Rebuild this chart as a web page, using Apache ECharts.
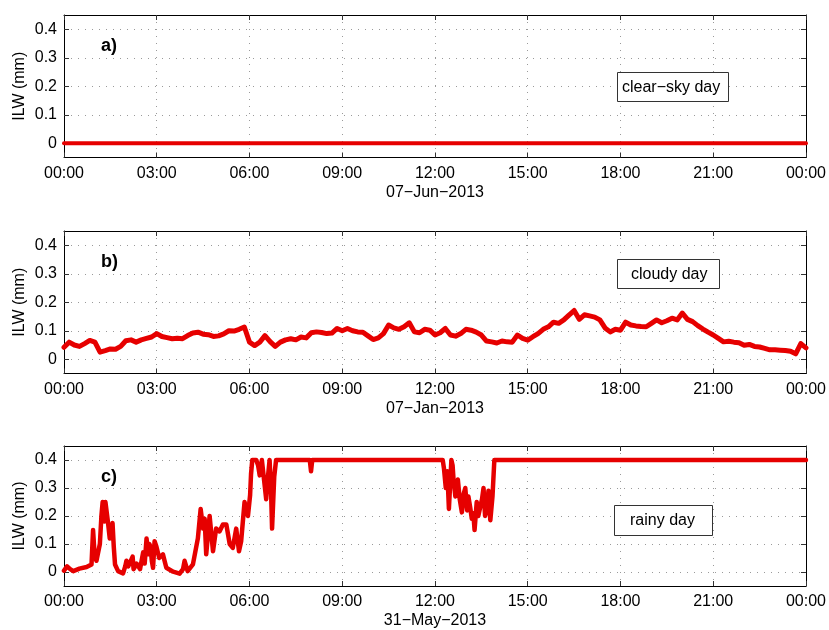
<!DOCTYPE html>
<html>
<head>
<meta charset="utf-8">
<script src="https://cdn.jsdelivr.net/npm/echarts@6/dist/echarts.min.js"></script>
<style>
  html, body { margin: 0; padding: 0; background: #fff; }
  #chart { width: 829px; height: 630px; }
</style>
</head>
<body>
<div id="chart"></div>
<script>
// hours of the day on the x axis
const hourTicks = [0, 3, 6, 9, 12, 15, 18, 21, 24];
const ilwTicks = [0, 0.1, 0.2, 0.3, 0.4];
const dates = ['07−Jun−2013', '07−Jan−2013', '31−May−2013'];
const dayLabels = ['clear−sky day', 'cloudy day', 'rainy day'];
const panelLabels = ['a)', 'b)', 'c)'];

// a) clear-sky day, hourly values
const clearValues = [0, 0, 0, 0, 0, 0, 0, 0, 0, 0, 0, 0, 0, 0, 0, 0, 0, 0, 0, 0, 0, 0, 0, 0, 0];

// b) cloudy day, one value every 10 minutes
const cloudyValues = [
  0.042, 0.060, 0.050, 0.045, 0.055, 0.066,
  0.060, 0.025, 0.030, 0.036, 0.035, 0.045,
  0.065, 0.068, 0.060, 0.068, 0.073, 0.078,
  0.090, 0.080, 0.076, 0.072, 0.074, 0.072,
  0.083, 0.092, 0.095, 0.088, 0.086, 0.080,
  0.082, 0.089, 0.100, 0.099, 0.105, 0.113,
  0.060, 0.048, 0.060, 0.083, 0.062, 0.045,
  0.060, 0.068, 0.072, 0.068, 0.078, 0.075,
  0.093, 0.096, 0.094, 0.090, 0.092, 0.108,
  0.100, 0.108, 0.100, 0.096, 0.095, 0.082,
  0.069, 0.075, 0.090, 0.120, 0.110, 0.105,
  0.114, 0.128, 0.096, 0.093, 0.105, 0.102,
  0.085, 0.093, 0.108, 0.085, 0.081, 0.090,
  0.105, 0.102, 0.095, 0.085, 0.064, 0.061,
  0.057, 0.064, 0.061, 0.060, 0.085, 0.073,
  0.067, 0.079, 0.090, 0.105, 0.114, 0.130,
  0.126, 0.138, 0.155, 0.171, 0.140, 0.156,
  0.152, 0.148, 0.138, 0.110, 0.096, 0.105,
  0.102, 0.130, 0.120, 0.117, 0.115, 0.114,
  0.126, 0.138, 0.128, 0.135, 0.144, 0.138,
  0.162, 0.140, 0.132, 0.118, 0.106, 0.095,
  0.085, 0.073, 0.061, 0.063, 0.060, 0.058,
  0.049, 0.052, 0.045, 0.043, 0.038, 0.033,
  0.033, 0.032, 0.031, 0.028, 0.019, 0.055,
  0.040
];

// c) rainy day, irregular samples (hour, value)
const rainyHours = [
  0.00, 0.10, 0.20, 0.30, 0.50, 0.73, 0.89, 0.94, 0.99, 1.05,
  1.16, 1.21, 1.25, 1.30, 1.34, 1.38, 1.43, 1.48, 1.53, 1.57,
  1.61, 1.65, 1.75, 1.91, 1.98, 2.02, 2.08, 2.13, 2.22, 2.25,
  2.29, 2.35, 2.40, 2.46, 2.50, 2.56, 2.61, 2.67, 2.72, 2.76,
  2.80, 2.84, 2.88, 2.93, 2.99, 3.08, 3.20, 3.31, 3.53, 3.74,
  3.85, 3.90, 4.00, 4.17, 4.33, 4.42, 4.50, 4.55, 4.60, 4.71,
  4.82, 4.92, 5.03, 5.14, 5.25, 5.36, 5.46, 5.57, 5.66, 5.73,
  5.84, 5.95, 6.02, 6.05, 6.09, 6.22, 6.28, 6.33, 6.40, 6.43,
  6.54, 6.58, 6.65, 6.70, 6.73, 6.80, 6.86, 7.95, 7.99, 8.03,
  12.25, 12.29, 12.35, 12.40, 12.45, 12.53, 12.57, 12.60, 12.66, 12.74,
  12.80, 12.87, 12.93, 12.98, 13.04, 13.08, 13.14, 13.19, 13.24, 13.28,
  13.35, 13.40, 13.46, 13.52, 13.57, 13.62, 13.68, 13.73, 13.79, 13.86,
  13.92, 24.00
];
const rainyValues = [
  0.005, 0.020, 0.010, 0.003, 0.012, 0.018, 0.027, 0.150, 0.060, 0.040,
  0.100, 0.200, 0.250, 0.180, 0.250, 0.250, 0.170, 0.120, 0.140, 0.175,
  0.090, 0.027, 0.003, -0.005, 0.020, 0.040, 0.020, 0.027, 0.055, 0.010,
  0.010, 0.030, 0.027, 0.010, 0.003, 0.070, 0.030, 0.120, 0.063, 0.100,
  0.090, 0.040, 0.015, 0.110, 0.090, 0.050, 0.063, 0.015, 0.001, -0.006,
  0.010, 0.040, 0.003, 0.027, 0.120, 0.225, 0.155, 0.190, 0.063, 0.200,
  0.074, 0.155, 0.145, 0.170, 0.170, 0.100, 0.086, 0.155, 0.074, 0.110,
  0.250, 0.200, 0.275, 0.350, 0.400, 0.400, 0.380, 0.345, 0.400, 0.400,
  0.260, 0.320, 0.400, 0.280, 0.155, 0.340, 0.400, 0.400, 0.360, 0.400,
  0.400, 0.370, 0.300, 0.360, 0.225, 0.400, 0.380, 0.330, 0.270, 0.330,
  0.260, 0.213, 0.280, 0.300, 0.220, 0.270, 0.230, 0.190, 0.210, 0.150,
  0.250, 0.200, 0.205, 0.260, 0.300, 0.200, 0.225, 0.290, 0.185, 0.270,
  0.400, 0.400
];

const FONT = '"Liberation Sans", Arial, Helvetica, sans-serif';
const RED = '#e60000';
const tops = [15, 231, 446];
const plotH = 142.5;
const gridDots = { color: '#9a9a9a', type: [1, 6], width: 1 };

const panelData = [
  clearValues.map((v, i) => [i, v]),
  cloudyValues.map((v, i) => [i / 6, v]),
  rainyValues.map((v, i) => [rainyHours[i], v])
];
const lineWidths = [4, 5, 4.5];

const grids = [], xAxes = [], yAxes = [], series = [];
tops.forEach((top, i) => {
  grids.push({ left: 64, top: top, width: 744, height: plotH });
  const xBase = {
    gridIndex: i, type: 'value', min: 0, max: 24, interval: 3,
    axisLine: { onZero: false, lineStyle: { color: '#000', width: 1 } },
    axisTick: { inside: true, length: 5, lineStyle: { color: '#333' } }
  };
  xAxes.push(Object.assign({}, xBase, {
    position: 'bottom',
    name: dates[i], nameLocation: 'middle', nameGap: 27,
    nameTextStyle: { fontFamily: FONT, fontSize: 16, color: '#000' },
    axisLabel: {
      margin: 8, fontFamily: FONT, fontSize: 16, color: '#000',
      formatter: h => String(h % 24).padStart(2, '0') + ':00'
    },
    splitLine: { show: true, lineStyle: gridDots }
  }));
  xAxes.push(Object.assign({}, xBase, {
    position: 'top', axisLabel: { show: false }, splitLine: { show: false }
  }));
  const yBase = {
    gridIndex: i, type: 'value', min: -0.05, max: 0.45,
    axisLine: { show: true, onZero: false, lineStyle: { color: '#000', width: 1 } },
    axisTick: { show: true, inside: true, length: 5, customValues: ilwTicks, lineStyle: { color: '#333' } }
  };
  yAxes.push(Object.assign({}, yBase, {
    position: 'left',
    name: 'ILW (mm)', nameLocation: 'middle', nameGap: 36, nameMoveOverlap: false,
    nameTextStyle: { fontFamily: FONT, fontSize: 16, color: '#000' },
    axisLabel: {
      margin: 7, fontFamily: FONT, fontSize: 16, color: '#000',
      customValues: ilwTicks,
      formatter: v => (v === 0 ? '0' : v.toFixed(1))
    },
    splitLine: { show: true, lineStyle: gridDots }
  }));
  yAxes.push(Object.assign({}, yBase, {
    position: 'right', axisLabel: { show: false }, splitLine: { show: false }
  }));
  series.push({
    type: 'line', xAxisIndex: i * 2, yAxisIndex: i * 2,
    data: panelData[i], showSymbol: false, animation: false,
    lineStyle: { color: RED, width: lineWidths[i], join: 'round', cap: 'round' },
    itemStyle: { color: RED }
  });
});

// text boxes and panel letters
const boxes = [
  { x: 617, y: 72, w: 111, h: 29, tx: 622 },
  { x: 617, y: 259, w: 102, h: 29, tx: 631 },
  { x: 614, y: 505, w: 98, h: 30, tx: 630 }
];
const graphics = [];
boxes.forEach((b, i) => {
  graphics.push({
    type: 'rect', shape: { x: b.x + 0.5, y: b.y + 0.5, width: b.w, height: b.h },
    style: { fill: '#fff', stroke: '#333', lineWidth: 1 }, z: 10
  });
  graphics.push({
    type: 'text', x: b.tx, y: b.y + b.h / 2 + 1, z: 11,
    style: { text: dayLabels[i], font: '16px ' + FONT, fill: '#000', verticalAlign: 'middle' }
  });
  graphics.push({
    type: 'text', x: 101, y: tops[i] + 31, z: 11,
    style: { text: panelLabels[i], font: 'bold 18px ' + FONT, fill: '#000', verticalAlign: 'middle' }
  });
});

const chart = echarts.init(document.getElementById('chart'));
chart.setOption({
  backgroundColor: '#fff',
  animation: false,
  grid: grids,
  xAxis: xAxes,
  yAxis: yAxes,
  series: series,
  graphic: graphics
});
</script>
</body>
</html>
